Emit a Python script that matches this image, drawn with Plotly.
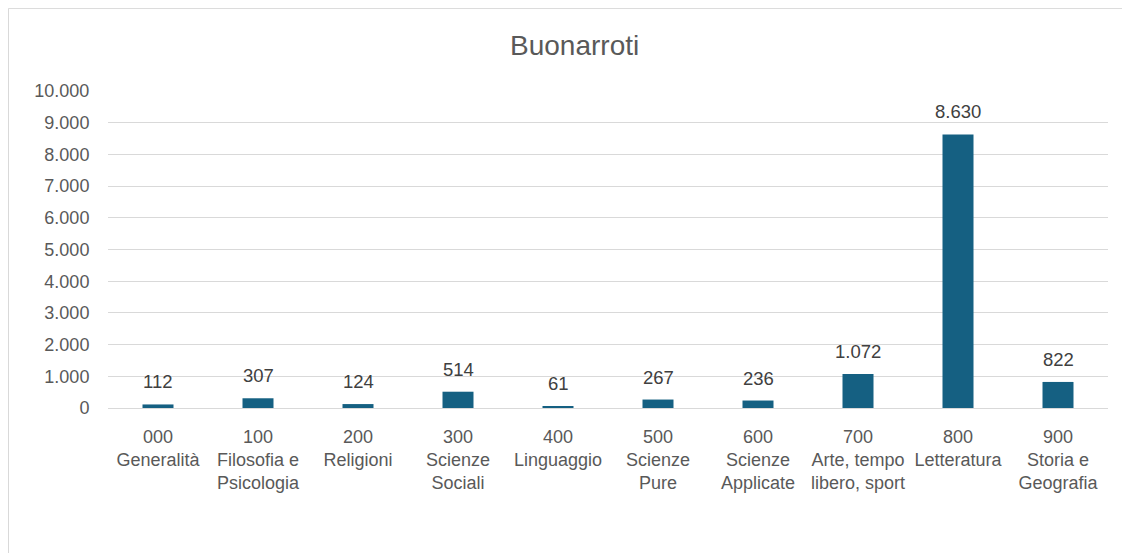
import plotly.graph_objects as go

codes = ["000", "100", "200", "300", "400", "500", "600", "700", "800", "900"]
names = ["Generalità", "Filosofia e<br>Psicologia", "Religioni", "Scienze<br>Sociali", "Linguaggio",
         "Scienze<br>Pure", "Scienze<br>Applicate", "Arte, tempo<br>libero, sport", "Letteratura",
         "Storia e<br>Geografia"]
values = [112, 307, 124, 514, 61, 267, 236, 1072, 8630, 822]
title_text = "Buonarroti"

categories = [f"{c}<br>{n}" for c, n in zip(codes, names)]
FONT = "Liberation Sans, Arial, sans-serif"

fig = go.Figure()
fig.add_trace(go.Bar(x=categories, y=values, marker=dict(color="#156082", line=dict(width=0)),
                     width=0.31, hoverinfo="x+y"))

for cat, v in zip(categories, values):
    fig.add_annotation(x=cat, y=v, xref="x", yref="y", text=f"{v:,}".replace(",", "."),
                       showarrow=False, yanchor="bottom", yshift=10,
                       font=dict(family=FONT, size=18.5, color="#404040"))

fig.add_shape(type="rect", xref="paper", yref="paper", x0=-0.0995, x1=1.0205, y0=-0.6, y1=1.2605,
              line=dict(color="#D9D9D9", width=1), fillcolor="rgba(0,0,0,0)", layer="below")

fig.update_layout(
    width=1122, height=545,
    margin=dict(l=100, r=22, t=83, b=145),
    paper_bgcolor="white", plot_bgcolor="white",
    separators=",.",
    showlegend=False,
    title=dict(text=title_text, x=0.505, xanchor="center", y=1 - 37 / 545, yanchor="middle",
               yref="container", font=dict(family=FONT, size=28, color="#595959")),
    font=dict(family=FONT, size=18, color="#595959"),
    xaxis=dict(showgrid=False, showline=False, zeroline=False, ticks="outside", ticklen=12,
               tickcolor="rgba(0,0,0,0)", tickfont=dict(family=FONT, size=18, color="#595959")),
    yaxis=dict(range=[0, 10000], dtick=1000, tickformat=",d", showgrid=True, gridcolor="#D9D9D9",
               gridwidth=1, zeroline=True, zerolinecolor="#D9D9D9", zerolinewidth=1,
               showline=False, ticks="outside", ticklen=14, tickcolor="rgba(0,0,0,0)",
               tickfont=dict(family=FONT, size=18, color="#595959")),
)

fig.write_html("out.html")
